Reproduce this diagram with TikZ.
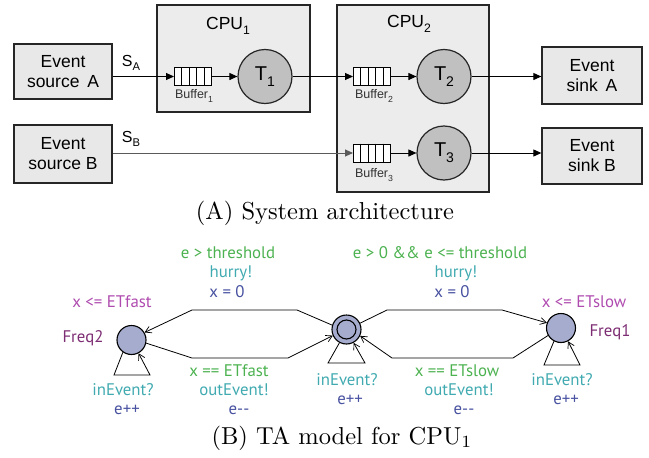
\documentclass[tikz,border=0pt]{standalone}
\usepackage{fontspec}
\usetikzlibrary{arrows.meta,calc}
\newfontfamily\arialf{Liberation Sans}
\newfontfamily\tafont{PT Sans}
\definecolor{boxfill}{RGB}{232,232,232}
\definecolor{cpufill}{RGB}{236,236,236}
\definecolor{taskfill}{RGB}{192,192,192}
\definecolor{statefill}{RGB}{165,172,206}
\definecolor{tagreen}{RGB}{76,178,80}
\definecolor{tateal}{RGB}{64,170,176}
\definecolor{tablue}{RGB}{72,82,160}
\definecolor{tainv}{RGB}{175,75,175}
\definecolor{taname}{RGB}{125,45,115}
\definecolor{lineB}{RGB}{90,90,90}
\newcommand\lsub[1]{\raisebox{-0.3em}{\scalebox{0.7}{#1}}}
\newcommand\bufferlines[1]{\foreach \k in {1,2,3,4} \draw[line width=1pt] ($(#1.north west)!\k/5!(#1.north east)$) -- ($(#1.south west)!\k/5!(#1.south east)$);}
\newcommand\captext[1]{\scalebox{2.45}{\fontsize{10}{12}\selectfont #1}}
\begin{document}
\begin{tikzpicture}[x=1pt,y=-1pt,
  evbox/.style={draw=black!85,line width=1.3pt,fill=boxfill,inner sep=0pt,align=center,
    font=\arialf\fontsize{17.5}{20}\selectfont},
  cpubox/.style={draw=black!85,line width=1.3pt,fill=cpufill,inner sep=0pt},
  task/.style={circle,draw=black!85,line width=1.2pt,fill=taskfill,minimum size=54pt,inner sep=0pt,
    font=\arialf\fontsize{20}{20}\selectfont},
  bufbox/.style={draw=black,line width=1pt,fill=white,minimum width=37pt,minimum height=18pt,inner sep=0pt},
  buflbl/.style={font=\arialf\fontsize{12.5}{12.5}\selectfont,text=black!80},
  cpulbl/.style={font=\arialf\fontsize{17.5}{17.5}\selectfont},
  slbl/.style={font=\arialf\fontsize{16}{16}\selectfont},
  farr/.style={line width=1pt,-{Triangle[length=8pt,width=7pt]}},
  state/.style={circle,draw=black,line width=1.1pt,fill=statefill,minimum size=29pt,inner sep=0pt},
  taarr/.style={line width=0.8pt,-{Straight Barb[length=6pt,width=7pt,line width=0.7pt]}},
  talbl/.style={font=\tafont\fontsize{16.8}{16.8}\selectfont,inner sep=0pt},
  captxt/.style={inner sep=0pt}]
\useasboundingbox (0,0) rectangle (649,458);
% ---------- (A) system architecture ----------
\node[cpubox,minimum width=153pt,minimum height=107pt] (cpu1) at (233.5,58.5) {};
\node[cpubox,minimum width=152pt,minimum height=187pt] (cpu2) at (413,98.5) {};
\node[cpulbl] (cpu1l) at (228,26) {CPU\lsub{1}};
\node[cpulbl] (cpu2l) at (409,24) {CPU\lsub{2}};
\node[evbox,minimum width=98pt,minimum height=55pt] (srcA) at (63,71.5) {Event\\source\, A};
\node[evbox,minimum width=98pt,minimum height=58pt] (srcB) at (63,154) {Event\\source B};
\node[evbox,minimum width=100pt,minimum height=57pt] (sinkA) at (592,75.5) {Event\\sink\, A};
\node[evbox,minimum width=100pt,minimum height=56pt] (sinkB) at (592,156) {Event\\sink B};
\node[bufbox] (buf1) at (193,76.5) {};
\node[bufbox] (buf2) at (372,76.5) {};
\node[bufbox] (buf3) at (372,153) {};
\bufferlines{buf1}
\bufferlines{buf2}
\bufferlines{buf3}
\node[buflbl] (buf1l) at (194,96) {Buffer\lsub{1}};
\node[buflbl] (buf2l) at (374,96) {Buffer\lsub{2}};
\node[buflbl] (buf3l) at (374,175) {Buffer\lsub{3}};
\node[task] (T1) at (265,76.5) {T\lsub{1}};
\node[task] (T2) at (444,76.5) {T\lsub{2}};
\node[task] (T3) at (444,153) {T\lsub{3}};
\node[slbl] (SA) at (131,63) {S\lsub{A}};
\node[slbl] (SB) at (131,139) {S\lsub{B}};
\draw[farr] (srcA.east |- buf1.west) -- (buf1.west);
\draw[farr] (buf1) -- (T1);
\draw[farr] (T1) -- (buf2);
\draw[farr] (buf2) -- (T2);
\draw[farr] (T2) -- (sinkA.west |- T2.east);
\draw[farr,draw=lineB] (srcB.east |- buf3.west) -- (buf3.west);
\draw[farr] (buf3) -- (T3);
\draw[farr] (T3) -- (sinkB.west |- T3.east);
\node[captxt] (capA) at (325,213) {\captext{(A) System architecture}};
% ---------- (B) TA model ----------
\node[state] (f2) at (131.5,340) {};
\node[state] (c) at (346.5,329.5) {};
\node[state] (f1) at (561,328) {};
\draw[line width=1.1pt] (c) circle[radius=9.5pt];
\draw[taarr] (c.163) -- (297,310) -- (192,310) -- (f2.30);
\draw[taarr] (f2.-12) -- (192,358) -- (288,358) -- (c.-156);
\draw[taarr] (c.25) -- (387,310) -- (502,310) -- (f1.160);
\draw[taarr] (f1.-150) -- (513,358) -- (392,358) -- (c.-25);
\draw[taarr] (f2.-125) -- (114,375) -- (150,375) -- (f2.-62);
\draw[taarr] (c.-118) -- (328,363) -- (365,363) -- (c.-62);
\draw[taarr] (f1.-118) -- (544,365) -- (580,365) -- (f1.-62);
\node[talbl,text=tainv] (i2) at (112,302) {x <= ETfast};
\node[talbl,text=taname] (n2) at (83,338) {Freq2};
\node[talbl,text=tagreen] (g1) at (228,253) {e > threshold};
\node[talbl,text=tateal] (s1) at (231,273) {hurry!};
\node[talbl,text=tablue] (u1) at (227,292) {x = 0};
\node[talbl,text=tagreen] (g2) at (229,371) {x == ETfast};
\node[talbl,text=tateal] (s2) at (234,390) {outEvent!};
\node[talbl,text=tablue] (u2) at (239,410) {e-{}-};
\node[talbl,text=tateal] (s3) at (123,390) {inEvent?};
\node[talbl,text=tablue] (u3) at (127,410) {e++};
\node[talbl,text=tateal] (s4) at (347,380) {inEvent?};
\node[talbl,text=tablue] (u4) at (350,400) {e++};
\node[talbl,text=tagreen] (g5) at (440,253) {e > 0 \&\& e <= threshold};
\node[talbl,text=tateal] (s5) at (456,273) {hurry!};
\node[talbl,text=tablue] (u5) at (452,292) {x = 0};
\node[talbl,text=tainv] (i1) at (584,302) {x <= ETslow};
\node[talbl,text=taname] (n1) at (610,332) {Freq1};
\node[talbl,text=tagreen] (g6) at (457,371) {x == ETslow};
\node[talbl,text=tateal] (s6) at (459,390) {outEvent!};
\node[talbl,text=tablue] (u6) at (464,410) {e-{}-};
\node[talbl,text=tateal] (s7) at (562,380) {inEvent?};
\node[talbl,text=tablue] (u7) at (566,400) {e++};
\node[captxt] (capB) at (342,438) {\captext{(B) TA model for CPU$_1$}};
\end{tikzpicture}
\end{document}
